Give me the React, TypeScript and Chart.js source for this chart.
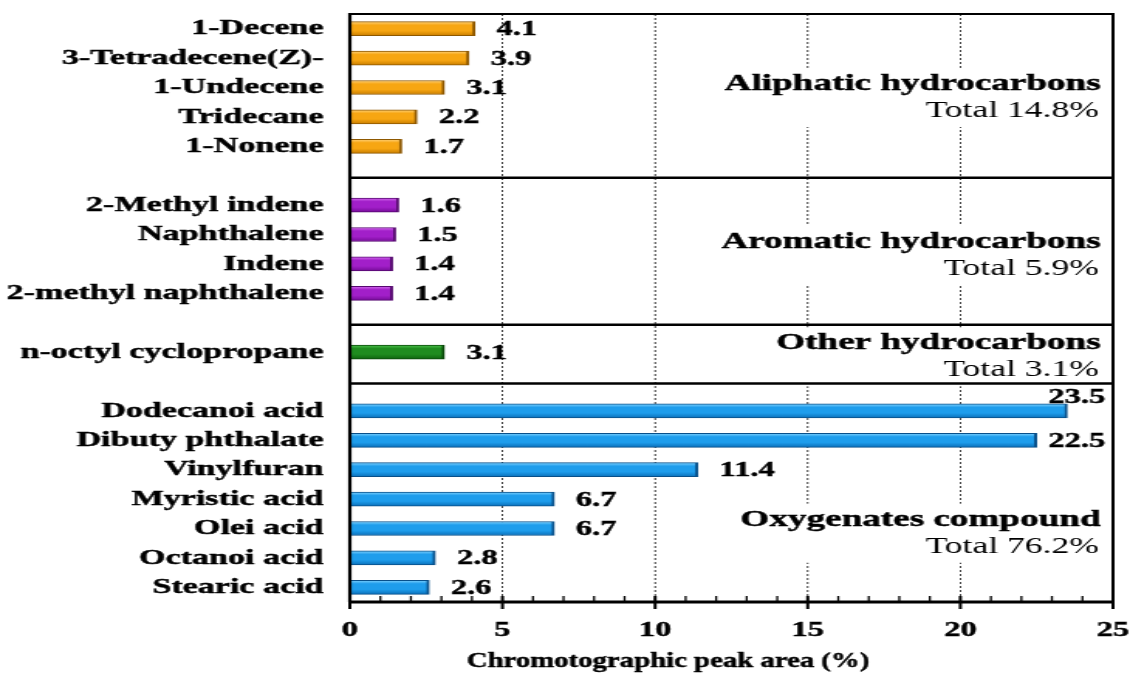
import React, { useEffect, useRef } from 'react';
import { Chart, registerables } from 'chart.js';

Chart.register(...registerables);

// ---------- data ----------
const aliphaticLabels = ['1-Decene', '3-Tetradecene(Z)-', '1-Undecene', 'Tridecane', '1-Nonene'];
const aliphaticValues = [4.1, 3.9, 3.1, 2.2, 1.7];
const aromaticLabels = ['2-Methyl indene', 'Naphthalene', 'Indene', '2-methyl naphthalene'];
const aromaticValues = [1.6, 1.5, 1.4, 1.4];
const otherLabels = ['n-octyl cyclopropane'];
const otherValues = [3.1];
const oxygenateLabels = ['Dodecanoi acid', 'Dibuty phthalate', 'Vinylfuran', 'Myristic acid', 'Olei acid', 'Octanoi acid', 'Stearic acid'];
const oxygenateValues = [23.5, 22.5, 11.4, 6.7, 6.7, 2.8, 2.6];
const groupNames = ['Aliphatic hydrocarbons', 'Aromatic hydrocarbons', 'Other hydrocarbons', 'Oxygenates compound'];
const groupTotals = ['Total 14.8%', 'Total 5.9%', 'Total 3.1%', 'Total 76.2%'];
const xTicks = [0, 5, 10, 15, 20, 25];
const xTitle = 'Chromotographic peak area (%)';

// ---------- styling ----------
const FONT = '"Liberation Serif", "Times New Roman", Times, serif';
const PALETTES = [
  ['#FFD27A', '#F7A612', '#C97E00', '#8E5800'],
  ['#D56BF0', '#A21FC9', '#760C98', '#560870'],
  ['#4CC24C', '#1F8C1F', '#0E640E', '#0A4A0A'],
  ['#7FD2FF', '#1E9DEC', '#0B70BA', '#08508A'],
];
const CANVAS_W = 730; // drawn at this width, shown stretched to 1130 like the reference
const CANVAS_H = 676;
// row positions (in category units) of the group captions
const GROUP_TITLE_ROWS = [1.88, 7.24, 10.7, 16.7];
const TOTAL_ROW_OFFSET = 0.92;
const BOLD_STROKE = 0.45;

// ---------- build rows ----------
const groupsData = [
  { labels: aliphaticLabels, values: aliphaticValues },
  { labels: aromaticLabels, values: aromaticValues },
  { labels: otherLabels, values: otherValues },
  { labels: oxygenateLabels, values: oxygenateValues },
];
const rowLabels: string[] = [];
const rowValues: (number | null)[] = [];
const rowGroup: number[] = [];
const separatorRows: number[] = [];
groupsData.forEach((g, gi) => {
  if (gi > 0) {
    separatorRows.push(rowLabels.length);
    rowLabels.push('');
    rowValues.push(null);
    rowGroup.push(-1);
  }
  g.labels.forEach((l, i) => {
    rowLabels.push(l);
    rowValues.push(g.values[i]);
    rowGroup.push(gi);
  });
});

function zeroPadding(s: any) {
  s.paddingTop = 0;
  s.paddingBottom = 0;
  s.paddingLeft = 0;
  s.paddingRight = 0;
}

function boldText(ctx: CanvasRenderingContext2D, txt: string, x: number, y: number) {
  ctx.lineWidth = BOLD_STROKE;
  ctx.strokeStyle = '#000';
  ctx.strokeText(txt, x, y);
  ctx.fillText(txt, x, y);
}

const decorPlugin = {
  id: 'decor',
  beforeDatasetsDraw(chart: any) {
    const { ctx, chartArea: a, scales } = chart;
    const x = scales.x, y = scales.y;
    ctx.save();
    // dotted vertical grid
    ctx.strokeStyle = '#000';
    ctx.lineWidth = 0.75;
    ctx.setLineDash([2, 2]);
    xTicks.forEach((v) => {
      if (v === xTicks[0] || v === xTicks[xTicks.length - 1]) return;
      const px = x.getPixelForValue(v);
      ctx.beginPath();
      ctx.moveTo(px, a.top);
      ctx.lineTo(px, a.bottom);
      ctx.stroke();
    });
    ctx.setLineDash([]);
    // white boxes behind the group captions
    ctx.fillStyle = '#fff';
    groupNames.forEach((name, gi) => {
      const ty = y.getPixelForValue(GROUP_TITLE_ROWS[gi]);
      const by = y.getPixelForValue(GROUP_TITLE_ROWS[gi] + TOTAL_ROW_OFFSET);
      ctx.font = `bold 24px ${FONT}`;
      const w1 = ctx.measureText(name).width;
      ctx.font = `23px ${FONT}`;
      const w2 = ctx.measureText(groupTotals[gi]).width;
      const right = a.right - 8;
      const left = right - Math.max(w1, w2) - 6;
      ctx.fillRect(left, ty - 16, right - left + 4, by - ty + 32);
    });
    ctx.restore();
  },
  afterDatasetsDraw(chart: any) {
    const { ctx, chartArea: a, scales } = chart;
    const x = scales.x, y = scales.y;
    ctx.save();
    ctx.strokeStyle = '#000';
    ctx.lineCap = 'butt';
    // separators between groups
    ctx.lineWidth = 2.5;
    separatorRows.forEach((r) => {
      const py = y.getPixelForValue(r) + 2;
      ctx.beginPath();
      ctx.moveTo(a.left, py);
      ctx.lineTo(a.right, py);
      ctx.stroke();
    });
    // frame
    ctx.lineWidth = 2;
    ctx.beginPath();
    ctx.moveTo(a.left, a.top);
    ctx.lineTo(a.right, a.top);
    ctx.stroke();
    ctx.beginPath();
    ctx.moveTo(a.right, a.top - 1);
    ctx.lineTo(a.right, a.bottom);
    ctx.stroke();
    ctx.lineWidth = 2.2;
    ctx.beginPath();
    ctx.moveTo(a.left, a.top - 1);
    ctx.lineTo(a.left, a.bottom);
    ctx.stroke();
    ctx.lineWidth = 3;
    ctx.beginPath();
    ctx.moveTo(a.left - 1, a.bottom);
    ctx.lineTo(a.right + 1, a.bottom);
    ctx.stroke();
    // ticks
    const lo = xTicks[0], hi = xTicks[xTicks.length - 1];
    for (let v = lo; v <= hi; v += 1) {
      const px = x.getPixelForValue(v);
      const major = xTicks.includes(v);
      ctx.lineWidth = major ? 2 : 1.3;
      ctx.beginPath();
      ctx.moveTo(px, a.bottom - 6);
      ctx.lineTo(px, major ? a.bottom + 7 : a.bottom);
      ctx.stroke();
    }
    // value labels
    ctx.fillStyle = '#000';
    ctx.font = `bold 21px ${FONT}`;
    ctx.textAlign = 'left';
    ctx.textBaseline = 'middle';
    rowValues.forEach((v, i) => {
      if (v == null) return;
      const end = x.getPixelForValue(v);
      const txt = v.toFixed(1);
      const w = ctx.measureText(txt).width;
      const lx = Math.min(end + 14, a.right - w - 5);
      let ly = y.getPixelForValue(i) + 1;
      if (lx < end + 3) ly -= 14;
      boldText(ctx, txt, lx, ly);
    });
    // group captions
    ctx.textAlign = 'right';
    groupNames.forEach((name, gi) => {
      const ty = y.getPixelForValue(GROUP_TITLE_ROWS[gi]);
      const by = y.getPixelForValue(GROUP_TITLE_ROWS[gi] + TOTAL_ROW_OFFSET);
      ctx.font = `bold 24px ${FONT}`;
      boldText(ctx, name, a.right - 8, ty);
      ctx.font = `23px ${FONT}`;
      ctx.fillText(groupTotals[gi], a.right - 9, by);
    });
    // axis title
    ctx.font = `bold 21px ${FONT}`;
    ctx.textAlign = 'center';
    const cx = a.left + (a.right - a.left) * 0.417;
    ctx.translate(cx, 662);
    ctx.scale(0.885, 1);
    boldText(ctx, xTitle, 0, 0);
    ctx.restore();
  },
};

function barFill(c: any) {
  const g = rowGroup[c.dataIndex];
  const pal = PALETTES[g < 0 ? 0 : g];
  const chart = c.chart;
  const ys = chart.scales && chart.scales.y;
  if (!ys || c.dataIndex == null) return pal[1];
  const py = ys.getPixelForValue(c.dataIndex);
  if (!isFinite(py)) return pal[1];
  const grad = chart.ctx.createLinearGradient(0, py - 7, 0, py + 7);
  grad.addColorStop(0, pal[0]);
  grad.addColorStop(0.25, pal[1]);
  grad.addColorStop(0.65, pal[1]);
  grad.addColorStop(1, pal[2]);
  return grad;
}

function barBorder(c: any) {
  const g = rowGroup[c.dataIndex];
  return PALETTES[g < 0 ? 0 : g][3];
}

export default function App() {
  const ref = useRef<HTMLCanvasElement | null>(null);
  useEffect(() => {
    if (!ref.current) return;
    const chart = new Chart(ref.current, {
      type: 'bar',
      data: {
        labels: rowLabels,
        datasets: [
          {
            data: rowValues as any,
            backgroundColor: barFill as any,
            borderColor: barBorder as any,
            borderWidth: { top: 1, bottom: 1, left: 0, right: 2 } as any,
            borderSkipped: 'start',
            barThickness: 14,
          },
        ],
      },
      options: {
        indexAxis: 'y',
        responsive: false,
        animation: false,
        devicePixelRatio: 1,
        layout: { padding: { top: 14, right: 11, left: 0, bottom: 0 } },
        plugins: { legend: { display: false }, tooltip: { enabled: false } },
        scales: {
          x: {
            type: 'linear',
            min: xTicks[0],
            max: xTicks[xTicks.length - 1],
            afterBuildTicks: (s: any) => {
              s.ticks = xTicks.map((v) => ({ value: v }));
            },
            afterFit: (s: any) => {
              s.height = 74;
              zeroPadding(s);
            },
            grid: { display: false, drawTicks: false },
            border: { display: false },
            ticks: {
              padding: 16,
              color: '#000',
              textStrokeColor: '#000',
              textStrokeWidth: BOLD_STROKE,
              font: { family: FONT, size: 21, weight: 'bold' },
              maxRotation: 0,
            },
          },
          y: {
            type: 'category',
            afterFit: (s: any) => {
              s.width = 226;
              zeroPadding(s);
            },
            grid: { display: false, drawTicks: false },
            border: { display: false },
            ticks: {
              autoSkip: false,
              padding: 17,
              color: '#000',
              textStrokeColor: '#000',
              textStrokeWidth: BOLD_STROKE,
              font: { family: FONT, size: 22, weight: 'bold' },
            },
          },
        },
      },
      plugins: [decorPlugin],
    } as any);
    return () => chart.destroy();
  }, []);
  return (
    <div style={{ position: 'fixed', left: 0, top: 0, width: 1130, height: 676, background: '#fff' }}>
      <canvas
        ref={ref}
        width={CANVAS_W}
        height={CANVAS_H}
        style={{ width: '1130px', height: '676px', display: 'block' }}
      />
    </div>
  );
}
